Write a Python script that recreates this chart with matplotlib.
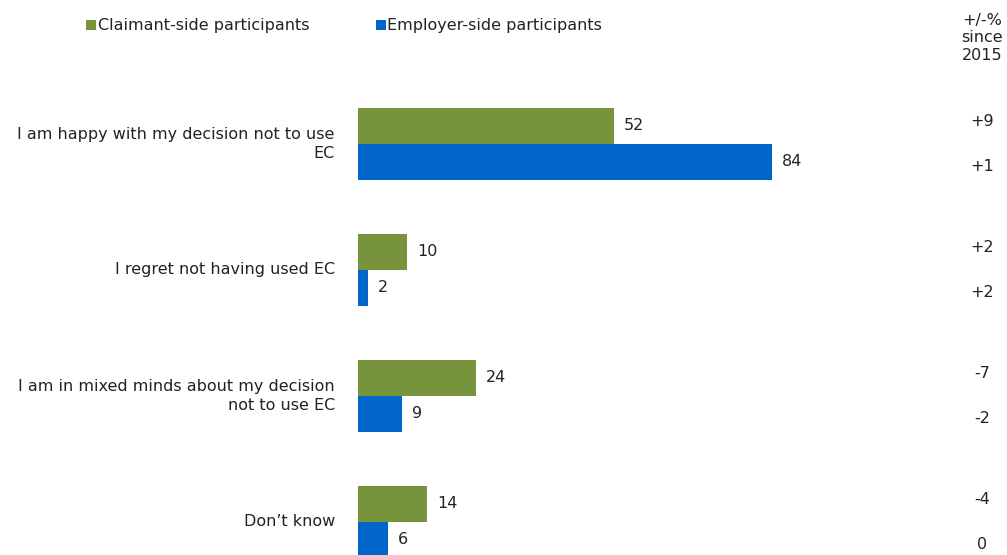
import matplotlib.pyplot as plt
import matplotlib.transforms as mtransforms
import numpy as np

categories = ["I am happy with my decision not to use\nEC",
              "I regret not having used EC",
              "I am in mixed minds about my decision\nnot to use EC",
              "Don\u2019t know"]
claimant = [52, 10, 24, 14]
employer = [84, 2, 9, 6]
claimant_change = ["+9", "+2", "-7", "-4"]
employer_change = ["+1", "+2", "-2", "0"]

green = "#77933C"
blue = "#0066CC"
txt = "#222222"
fs = 11.5

plt.rcParams['font.family'] = ['DejaVu Sans']

fig = plt.figure(figsize=(10.07, 5.55), dpi=100)
ax = fig.add_axes([358 / 1007, 0, 582 / 1007, 1 - 60 / 555])

y = np.arange(len(categories))
h = 36 / 126
ax.barh(y - h / 2, claimant, height=h, color=green, label="Claimant-side participants")
ax.barh(y + h / 2, employer, height=h, color=blue, label="Employer-side participants")

ax.set_xlim(0, 582 / 4.93)
ax.set_ylim((555 - 144) / 126, (60 - 144) / 126)

# right column: figure-x / data-y
trans = mtransforms.blended_transform_factory(fig.transFigure, ax.transData)

for i in range(len(categories)):
    ax.text(claimant[i] + 2, y[i] - h / 2, str(claimant[i]), va="center", ha="left", fontsize=fs, color=txt)
    ax.text(employer[i] + 2, y[i] + h / 2, str(employer[i]), va="center", ha="left", fontsize=fs, color=txt)
    ax.text(-4.7, y[i], categories[i], va="center", ha="right", fontsize=fs, color=txt,
            multialignment="right", linespacing=1.4)
    ax.text(982 / 1007, y[i] - 0.175, claimant_change[i], transform=trans,
            va="center", ha="center", fontsize=fs, color=txt, clip_on=False)
    ax.text(982 / 1007, y[i] + 0.175, employer_change[i], transform=trans,
            va="center", ha="center", fontsize=fs, color=txt, clip_on=False)

fig.text(982 / 1007, 1 - 38 / 555, "+/-%\nsince\n2015", ha="center", va="center", fontsize=fs,
         color=txt, linespacing=1.2)

for s in ax.spines.values():
    s.set_visible(False)
ax.set_xticks([])
ax.set_yticks([])

fig.legend(loc="upper left", bbox_to_anchor=(72 / 1007, 1 - 4 / 555), ncol=2, frameon=False,
           handlelength=0.6, handleheight=0.6, handletextpad=0.1, columnspacing=4.2,
           fontsize=fs, labelcolor=txt)

fig.savefig("out.png", dpi=100)
